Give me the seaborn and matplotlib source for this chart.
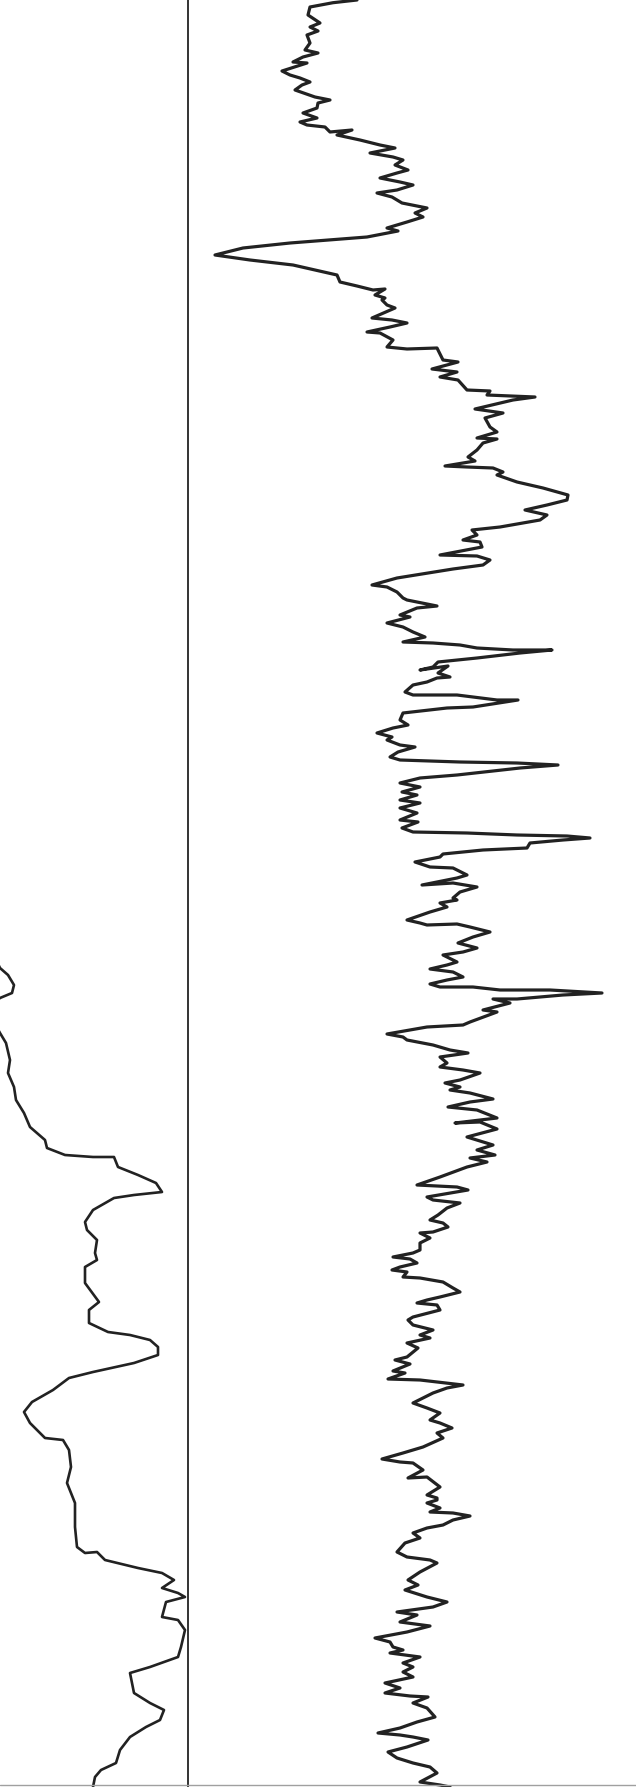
import matplotlib
matplotlib.use("Agg")
import matplotlib.pyplot as plt
import seaborn as sns
import pandas as pd

right_depth = [0, 2.7, 7, 15, 23, 27, 31, 35, 43, 50, 53, 57, 62, 63, 71, 75, 78, 82, 85, 90,
               97, 100, 103, 108, 113, 118, 122, 125, 127, 132, 130, 135, 140, 145, 148, 153, 157,
               160, 165, 170, 173, 178, 182, 185, 190, 193, 197, 203, 208, 213, 217, 222, 228, 231,
               237, 243, 248, 255, 260, 265, 275, 282, 286, 290, 289, 295, 298,
               300, 305, 308, 318, 320, 323, 327, 332, 333, 340, 347, 349, 348, 360, 362, 369, 372,
               377, 380, 390, 391, 395, 397, 400, 409, 413, 418, 427, 432, 438, 439, 443, 450, 457,
               461, 466, 467, 468, 472, 475, 482, 488, 495, 500, 505, 510, 515, 520, 527, 530, 535,
               540, 542, 547, 555, 556, 560, 565, 569, 578, 585, 587, 592, 598,
               600, 604, 606, 608, 615, 617, 623, 627, 632, 637, 642, 643, 645, 648, 650, 650, 653,
               658, 662, 667, 670, 666, 673, 677, 678, 682, 685, 692, 695, 695, 700, 700, 707, 708,
               713, 720, 725, 728, 733, 737, 740, 745, 747, 752, 757, 760, 762, 763, 765, 768, 775,
               778, 783, 787, 792, 795, 800, 803, 808, 813, 820, 822, 828, 832, 833, 835, 836, 838,
               840, 843, 848, 850, 854, 857, 862, 867, 868, 875, 878, 885, 883, 887, 892, 898,
               900, 903, 907, 912, 920, 923, 925, 924, 927, 932, 937, 943, 948, 952, 955, 962, 965,
               969, 972, 977, 980, 984, 987, 987, 990, 990, 993, 995, 999, 999, 1003, 1010, 1012,
               1022, 1025, 1027, 1034, 1037, 1040, 1045, 1050, 1053, 1057, 1063, 1067, 1070, 1073,
               1080, 1083, 1087, 1090, 1093, 1099, 1102, 1107, 1110, 1118, 1123, 1122, 1129, 1137,
               1145, 1150, 1155, 1158, 1162, 1167, 1177, 1185, 1187, 1190, 1197,
               1200, 1203, 1208, 1215, 1220, 1223, 1227, 1232, 1233, 1238, 1243, 1250, 1253, 1257,
               1259, 1263, 1267, 1270, 1272, 1277, 1278, 1282, 1288, 1292, 1297, 1300, 1303, 1305,
               1310, 1317, 1320, 1325, 1330, 1335, 1338, 1343, 1348, 1357, 1360, 1364, 1371, 1373,
               1379, 1380, 1385, 1388, 1393, 1403, 1408, 1413, 1420, 1423, 1428, 1433, 1438, 1447,
               1453, 1459, 1462, 1463, 1470, 1478, 1477, 1487, 1495, 1498,
               1500, 1503, 1508, 1512, 1513, 1516, 1520, 1525, 1528, 1533, 1538, 1543, 1552, 1557,
               1560, 1563, 1572, 1580, 1585, 1590, 1597, 1602, 1607, 1612, 1615, 1622, 1626, 1632,
               1638, 1642, 1647, 1650, 1653, 1657, 1663, 1667, 1672, 1677, 1683, 1688, 1693, 1696,
               1697, 1703, 1708, 1717, 1722, 1728, 1733, 1735, 1737, 1740, 1747, 1752, 1758, 1763,
               1767, 1773, 1782, 1785, 1787]
right_value = [357, 333, 310, 308, 320, 310, 318, 307, 310, 305, 318, 303, 293, 307, 282, 290, 300,
               310, 302, 295, 315, 330, 318, 317, 303, 317, 300, 307, 325, 330, 352, 337, 360, 380,
               395, 370, 393, 403, 395, 408, 397, 380, 400, 413, 397, 377, 392, 402, 427, 415, 423,
               407, 387, 398, 367, 290, 243, 215, 250, 293, 337, 340, 357, 373, 385, 375, 385,
               382, 387, 395, 372, 392, 407, 390, 367, 380, 393, 387, 407, 437, 443, 458, 432, 457,
               440, 458, 467, 490, 487, 535, 513, 475, 503, 485, 490, 497, 477, 497, 483, 477, 468,
               475, 445, 467, 493, 503, 497, 517, 543, 568, 567, 547, 525, 547, 540, 500, 472, 477,
               463, 480, 482, 440, 477, 490, 483, 453, 397, 372, 387, 397, 403,
               407, 427, 437, 417, 400, 410, 387, 403, 413, 425, 403, 433, 460, 477, 513, 552, 520,
               477, 438, 433, 420, 448, 438, 450, 437, 427, 413, 405, 413, 457, 497, 518, 473, 447,
               403, 400, 408, 393, 377, 392, 387, 400, 415, 398, 390, 400, 460, 517, 558, 520, 457,
               420, 400, 420, 402, 417, 400, 420, 400, 417, 400, 418, 402, 413, 467, 517, 567, 590,
               563, 530, 527, 483, 443, 440, 415, 430, 453, 467, 457, 422, 453, 477, 460, 453,
               457, 440, 447, 430, 407, 420, 427, 457, 470, 490, 473, 458, 477, 463, 443, 457, 447,
               430, 453, 463, 447, 430, 440, 473, 500, 550, 602, 563, 517, 493, 510, 483, 497,
               470, 463, 427, 387, 403, 407, 433, 450, 468, 440, 447, 440, 463, 480,
               460, 445, 460, 450, 470, 493, 470, 448, 477, 497, 455, 480, 497, 467,
               493, 477, 495, 470, 487, 467, 440, 417, 457, 468, 427,
               433, 460, 447, 438, 430, 443, 448, 433, 420, 430, 420, 420, 413, 393,
               410, 417, 400, 392, 407, 403, 420, 443, 453, 460, 440, 427, 417, 437,
               440, 413, 408, 413, 433, 420, 430, 407, 418, 407, 395, 410, 393, 405,
               388, 420, 463, 447, 433, 413, 427, 440, 430, 440, 452, 437, 443, 423,
               403, 382, 400, 413, 423, 408, 427, 440, 427, 437,
               437, 427, 440, 430, 453, 470, 453, 443, 427, 413, 420, 405, 397, 407,
               430, 437, 420, 408, 418, 405, 427, 447, 433, 397, 417, 400, 430, 407,
               375, 390, 393, 403, 390, 420, 403, 413, 403, 413, 385, 400, 385, 410,
               428, 413, 427, 435, 417, 400, 378, 400, 413, 428, 407, 388, 397, 413,
               430, 437, 420, 440, 450]

left_depth = [955, 968, 975, 985, 993, 998, 1005, 1018, 1033, 1043, 1060, 1073, 1087, 1100, 1113,
              1127, 1140, 1148, 1155, 1157, 1157, 1167, 1175, 1183, 1192, 1195, 1198, 1210, 1222,
              1230, 1240, 1253, 1260, 1267, 1283, 1302, 1310, 1323, 1332, 1335, 1340, 1347, 1355,
              1363, 1372, 1378, 1390, 1402, 1412, 1423, 1438, 1440, 1450, 1467, 1483, 1503, 1527,
              1547, 1553, 1552, 1560, 1568, 1573, 1580, 1588, 1593, 1597, 1602, 1617, 1620, 1630,
              1647, 1657, 1662, 1667, 1673, 1693, 1703, 1710, 1720, 1727, 1737, 1750, 1763, 1770,
              1777, 1787]
left_value = [-6, 0, 8, 14, 12, 0, -8, -8, 0, 6, 10, 8, 14, 16, 24,
              30, 45, 47, 65, 93, 114, 118, 138, 156, 162, 134, 114, 93, 85,
              87, 97, 95, 97, 85, 85, 99, 89, 89, 108, 130, 150, 158, 158,
              134, 93, 69, 53, 32, 24, 30, 45, 63, 69, 71, 67, 75, 75,
              77, 85, 97, 105, 138, 162, 174, 162, 178, 185, 166, 162, 178, 185,
              181, 178, 164, 150, 130, 134, 150, 164, 160, 146, 130, 120, 116, 101,
              95, 93]

divider_value = 188
base_depth = 1785

# ---- figure ----
sns.set_theme(style="white")
fig = plt.figure(figsize=(6.36, 17.87), dpi=100)
ax = fig.add_axes([0, 0, 1, 1])

right = pd.DataFrame({"depth": right_depth, "value": right_value})
left = pd.DataFrame({"depth": left_depth, "value": left_value})

sns.lineplot(data=right, x="value", y="depth", sort=False, estimator=None,
             color="#222222", linewidth=2.3, ax=ax,
             solid_joinstyle="round", solid_capstyle="round")
sns.lineplot(data=left, x="value", y="depth", sort=False, estimator=None,
             color="#222222", linewidth=1.9, ax=ax,
             solid_joinstyle="round", solid_capstyle="round")

ax.axvline(divider_value, color="#111111", linewidth=1.2)
ax.axhline(base_depth, color="#a0a0a0", linewidth=1.0)

ax.set_xlim(0, 636)
ax.set_ylim(1787, 0)
ax.set_xlabel("")
ax.set_ylabel("")
ax.axis("off")

fig.savefig("out.png", dpi=100, facecolor="white")
